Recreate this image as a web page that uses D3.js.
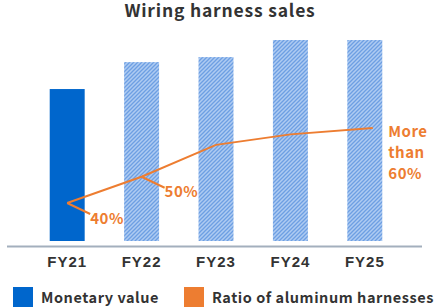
<!DOCTYPE html>
<html>
<head>
<meta charset="utf-8">
<script src="https://cdn.jsdelivr.net/npm/d3@7"></script>
<style>
  body { margin: 0; background: #fff; }
  svg { display: block; font-family: "Noto Sans CJK JP", "Noto Sans", sans-serif; font-weight: bold; }
</style>
</head>
<body>
<div id="chart"></div>
<script>
var categories = ['FY21', 'FY22', 'FY23', 'FY24', 'FY25'];
var salesIndex = [75.6, 89, 91.5, 100, 100];        // bar heights, FY24 = 100
var aluminumRatio = [40, 47, 55.5, 58.3, 60];        // line points, %
var ratioLabels = ['40%', '50%', '', '', 'More|than|60%'];
var actualCount = 1;                                  // first bar is actual, rest forecast

var width = 440, height = 307;
var blue = '#0066cc', orange = '#ed7d31', textColor = '#333';

function translate(x, y) {
    return 'translate(' + x + ',' + y + ')';
}

var svg = d3.select('#chart').append('svg')
    .attr('width', width)
    .attr('height', height);

// hatch for forecast bars
var pat = svg.append('defs').append('pattern')
    .attr('id', 'hatch')
    .attr('patternUnits', 'userSpaceOnUse')
    .attr('width', 4)
    .attr('height', 4);
pat.append('rect').attr('width', 4).attr('height', 4).attr('fill', '#aecbf2');
pat.append('path')
    .attr('d', 'M-1,1L1,-1M0,4L4,0M3,5L5,3')
    .attr('stroke', '#6d9fe3')
    .attr('stroke-width', 1.3);

svg.append('text')
    .attr('x', width / 2)
    .attr('y', 16.5)
    .attr('text-anchor', 'middle')
    .attr('fill', textColor)
    .attr('font-size', 17.5)
    .attr('letter-spacing', 0.8)
    .text('Wiring harness sales');

var x = d3.scaleBand()
    .domain(categories)
    .range([30, 402])
    .paddingInner(0.53)
    .paddingOuter(0.265);

var y = d3.scaleLinear().domain([0, 100]).range([241, 40]);
var yRatio = d3.scaleLinear().domain([40, 60]).range([203, 128]);

svg.append('g').selectAll('rect')
    .data(categories)
    .enter()
    .append('rect')
    .attr('x', d => x(d))
    .attr('width', x.bandwidth())
    .attr('y', (d, i) => y(salesIndex[i]))
    .attr('height', (d, i) => y(0) - y(salesIndex[i]))
    .attr('fill', (d, i) => i < actualCount ? blue : 'url(#hatch)');

// baseline
svg.append('line')
    .attr('x1', 7).attr('x2', 422)
    .attr('y1', 246.5).attr('y2', 246.5)
    .attr('stroke', '#a3afbd')
    .attr('stroke-width', 2);

var xAxis = svg.append('g')
    .attr('transform', translate(0, 246.5))
    .call(d3.axisBottom(x).tickSize(0).tickPadding(10));
xAxis.select('.domain').remove();
xAxis.selectAll('text')
    .attr('fill', textColor)
    .attr('font-size', 15)
    .attr('letter-spacing', 1)
    .attr('font-family', null);

// ratio line
var pts = categories.map((c, i) => [
    x(c) + x.bandwidth() / 2 + (i === categories.length - 1 ? 8 : 0),
    yRatio(aluminumRatio[i])
]);

svg.append('path')
    .attr('d', d3.line()(pts))
    .attr('fill', 'none')
    .attr('stroke', orange)
    .attr('stroke-width', 2);

var labels = svg.append('g').attr('fill', orange).attr('font-size', 15).attr('letter-spacing', 0.5);
pts.forEach(function (p, i) {
    var lab = ratioLabels[i];
    if (!lab) return;
    if (i < categories.length - 1) {
        svg.append('line')
            .attr('x1', p[0]).attr('y1', p[1])
            .attr('x2', p[0] + 23).attr('y2', p[1] + 11)
            .attr('stroke', orange)
            .attr('stroke-width', 2);
        labels.append('text')
            .attr('x', p[0] + 23)
            .attr('y', p[1] + 20.5)
            .text(lab);
    } else {
        var t = labels.append('text')
            .attr('x', p[0] + 15.5)
            .attr('y', p[1] + 9);
        lab.split('|').forEach(function (s, j) {
            t.append('tspan')
                .attr('x', p[0] + 15.5)
                .attr('dy', j ? 20.8 : 0)
                .text(s);
        });
    }
});

// legend
var legend = [
    { name: 'Monetary value', color: blue, x: 13 },
    { name: 'Ratio of aluminum harnesses', color: orange, x: 184 }
];
var lg = svg.append('g').attr('transform', translate(0, 287));
legend.forEach(function (d) {
    lg.append('rect')
        .attr('x', d.x).attr('y', 0)
        .attr('width', 20).attr('height', 20)
        .attr('fill', d.color);
    lg.append('text')
        .attr('x', d.x + 28)
        .attr('y', 16.3)
        .attr('fill', textColor)
        .attr('font-size', 14.5)
        .attr('letter-spacing', 0.55)
        .text(d.name);
});
</script>
</body>
</html>
